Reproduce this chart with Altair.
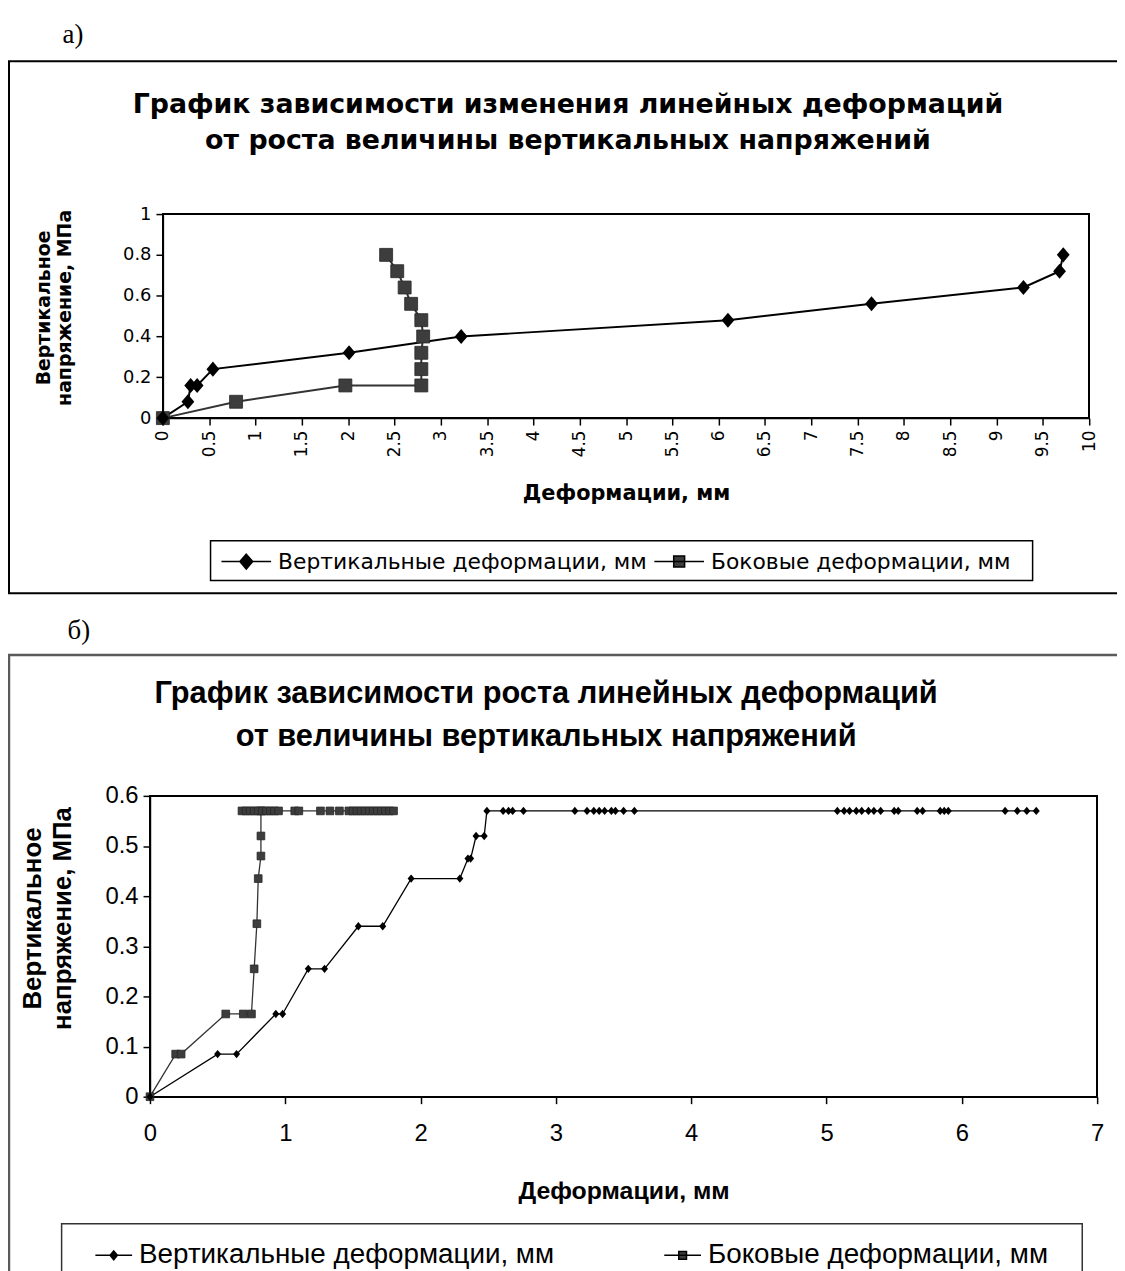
import altair as alt
import pandas as pd

# ---------------- data ----------------
series_names = ["Вертикальные деформации, мм", "Боковые деформации, мм"]

# panel а)
a_vert_x = [0, 0.27, 0.30, 0.37, 0.54, 2.01, 3.22, 6.10, 7.65, 9.29, 9.68, 9.72]
a_vert_y = [0, 0.08, 0.16, 0.16, 0.24, 0.32, 0.40, 0.48, 0.56, 0.64, 0.72, 0.80]
a_lat_x = [0, 0.79, 1.97, 2.79, 2.79, 2.79, 2.81, 2.79, 2.68, 2.61, 2.53, 2.41]
a_lat_y = [0, 0.08, 0.16, 0.16, 0.24, 0.32, 0.40, 0.48, 0.56, 0.64, 0.72, 0.80]

# panel б)
b_vert_x = [0, 0.50, 0.64, 0.93, 0.98, 1.17, 1.29, 1.54, 1.72, 1.93, 2.29, 2.35, 2.37,
            2.41, 2.47, 2.49, 2.61, 2.65, 2.68, 2.76, 3.14, 3.23, 3.28, 3.32, 3.36,
            3.41, 3.44, 3.50, 3.58, 5.08, 5.13, 5.17, 5.22, 5.26, 5.31, 5.35, 5.40,
            5.50, 5.53, 5.67, 5.71, 5.84, 5.87, 5.90, 6.32, 6.41, 6.48, 6.55]
b_vert_y = [0, 0.085, 0.085, 0.165, 0.165, 0.255, 0.255, 0.34, 0.34, 0.435, 0.435, 0.475, 0.475,
            0.52, 0.52, 0.57, 0.57, 0.57, 0.57, 0.57, 0.57, 0.57, 0.57, 0.57, 0.57,
            0.57, 0.57, 0.57, 0.57, 0.57, 0.57, 0.57, 0.57, 0.57, 0.57, 0.57, 0.57,
            0.57, 0.57, 0.57, 0.57, 0.57, 0.57, 0.57, 0.57, 0.57, 0.57, 0.57]
b_lat_x = [0, 0.19, 0.23, 0.56, 0.69, 0.75, 0.77, 0.79, 0.80, 0.82, 0.82,
           0.82, 0.68, 0.71, 0.74, 0.77, 0.80, 0.83, 0.86, 0.89, 0.92, 0.95,
           1.07, 1.10, 1.26, 1.33, 1.40, 1.47, 1.50, 1.53, 1.56, 1.59, 1.62,
           1.65, 1.68, 1.71, 1.74, 1.77, 1.80]
b_lat_y = [0, 0.085, 0.085, 0.165, 0.165, 0.165, 0.255, 0.345, 0.435, 0.48, 0.52,
           0.57, 0.57, 0.57, 0.57, 0.57, 0.57, 0.57, 0.57, 0.57, 0.57, 0.57,
           0.57, 0.57, 0.57, 0.57, 0.57, 0.57, 0.57, 0.57, 0.57, 0.57, 0.57,
           0.57, 0.57, 0.57, 0.57, 0.57, 0.57]

a_xticks = [0, 0.5, 1, 1.5, 2, 2.5, 3, 3.5, 4, 4.5, 5, 5.5, 6, 6.5, 7, 7.5, 8, 8.5, 9, 9.5, 10]
a_yticks = [0, 0.2, 0.4, 0.6, 0.8, 1]
b_xticks = [0, 1, 2, 3, 4, 5, 6, 7]
b_yticks = [0, 0.1, 0.2, 0.3, 0.4, 0.5, 0.6]

label_a = "а)"
label_b = "б)"
title_a = ["График зависимости изменения линейных деформаций",
           "от роста величины вертикальных напряжений"]
title_b = ["График зависимости роста линейных деформаций",
           "от величины вертикальных напряжений"]
y_title = ["Вертикальное", "напряжение, МПа"]
x_title = "Деформации, мм"


def make_df(xs, ys, name):
    return pd.DataFrame({"x": xs, "y": ys, "series": name, "i": list(range(len(xs)))})


df_a_v = make_df(a_vert_x, a_vert_y, series_names[0])
df_a_l = make_df(a_lat_x, a_lat_y, series_names[1])
df_b_v = make_df(b_vert_x, b_vert_y, series_names[0])
df_b_l = make_df(b_lat_x, b_lat_y, series_names[1])
df_a = pd.concat([df_a_v, df_a_l])
df_b = pd.concat([df_b_v, df_b_l])

# ---------------- layout ----------------
W, H = 1117, 1263
FA = "DejaVu Sans"
FB = "Liberation Sans"
XA = [156, 1089]
YA = [408.5, 203]
XB = [143, 1097]
YB = [1092, 789]

DIAMOND = "M0,-1L0.85,0L0,1L-0.85,0Z"
LEG_DA = "M-1,0L1,0M0,-0.3L0.26,0L0,0.3L-0.26,0Z"
LEG_SA = "M-1,0L1,0M-0.22,-0.22L0.22,-0.22L0.22,0.22L-0.22,0.22Z"
LEG_DB = "M-1,0L1,0M0,-0.24L0.2,0L0,0.24L-0.2,0Z"
LEG_SB = "M-1,0L1,0M-0.21,-0.21L0.21,-0.21L0.21,0.21L-0.21,0.21Z"


def panel(df_v, df_l, df_all, xr, yr, xdom, ydom, xticks, yticks, fam,
          xlab_size, ylab_size, xtitle_size, ytitle_size, x_angle,
          xlab_pad, xtitle_pad, ytitle_pad, ytitle_y, sizes, lw, leg):
    xs = alt.Scale(domain=xdom, range=xr, nice=False, zero=False)
    ys = alt.Scale(domain=ydom, range=yr, nice=False, zero=False)
    xaxis_kw = dict(orient="bottom", offset=-(H - yr[0]), values=xticks, format="~g",
                    labelFont=fam, labelFontSize=xlab_size, labelColor="black",
                    labelOverlap=False, labelFlush=False, labelBound=False,
                    tickSize=7, tickColor="black", tickWidth=1.5,
                    domainColor="black", domainWidth=1.5, grid=False,
                    title=x_title, titleFont=fam, titleFontSize=xtitle_size,
                    titleFontWeight="bold", titleColor="black", titlePadding=xtitle_pad,
                    labelPadding=xlab_pad)
    if x_angle:
        xaxis_kw.update(labelAngle=270, labelAlign="right", labelBaseline="middle")
    else:
        xaxis_kw.update(labelAngle=0)
    ax = alt.Axis(**xaxis_kw)
    ay = alt.Axis(orient="left", offset=-xr[0], values=yticks, format="~g",
                  labelFont=fam, labelFontSize=ylab_size, labelColor="black",
                  labelOverlap=False, labelFlush=False, labelBound=False, labelPadding=5,
                  tickSize=7, tickColor="black", tickWidth=1.5,
                  domainColor="black", domainWidth=1.5, grid=False,
                  title=y_title, titleFont=fam, titleFontSize=ytitle_size,
                  titleFontWeight="bold", titleColor="black", titlePadding=ytitle_pad,
                  titleLineHeight=ytitle_size * 1.15, titleY=ytitle_y)
    X = alt.X("x:Q", scale=xs, axis=ax)
    Y = alt.Y("y:Q", scale=ys, axis=ay)

    frame = alt.Chart(df_v).mark_rect(fillOpacity=0, stroke="black", strokeWidth=1.5).encode(
        x=alt.X(datum=xdom[0], type="quantitative", scale=xs, axis=ax),
        x2=alt.X2(datum=xdom[1]),
        y=alt.Y(datum=ydom[0], type="quantitative", scale=ys, axis=ay),
        y2=alt.Y2(datum=ydom[1]),
    )
    line_l = alt.Chart(df_l).mark_line(color="#333333", strokeWidth=lw).encode(
        x=X, y=Y, order="i:Q")
    line_v = alt.Chart(df_v).mark_line(color="black", strokeWidth=lw).encode(
        x=X, y=Y, order="i:Q")
    pts_l = alt.Chart(df_l).mark_point(filled=True, shape="square", size=sizes[1],
                                       color="#3d3d3d", opacity=1,
                                       stroke="#262626", strokeWidth=0.8).encode(x=X, y=Y)
    pts_v = alt.Chart(df_v).mark_point(filled=True, shape=DIAMOND, size=sizes[0],
                                       color="black", opacity=1).encode(x=X, y=Y)
    legend = alt.Legend(**leg)
    legend_layer = alt.Chart(df_all).transform_filter("false").mark_point(
        filled=True, opacity=1).encode(
        x=X, y=Y,
        shape=alt.Shape("series:N", scale=alt.Scale(domain=series_names, range=leg_shapes[fam]),
                        legend=legend),
        color=alt.Color("series:N", scale=alt.Scale(domain=series_names, range=["black", "#3d3d3d"]),
                        legend=legend),
    )
    return alt.layer(frame, line_l, line_v, pts_l, pts_v, legend_layer)


leg_shapes = {FA: [LEG_DA, LEG_SA], FB: [LEG_DB, LEG_SB]}

leg_a = dict(orient="none", legendX=214, legendY=527, direction="horizontal", title=None,
             labelFont=FA, labelFontSize=22, labelColor="black", labelOffset=6,
             labelLimit=1000, columnPadding=4, symbolSize=2500,
             symbolStrokeColor="black", symbolStrokeWidth=1.5, padding=0)
leg_b = dict(orient="none", legendX=87, legendY=1232, direction="horizontal", title=None,
             labelFont=FB, labelFontSize=28, labelColor="black", labelOffset=6,
             labelLimit=1000, columnPadding=107, symbolSize=1369,
             symbolStrokeColor="black", symbolStrokeWidth=1.5, padding=0)

panel_a = panel(df_a_v, df_a_l, df_a, XA, YA, [0, 10], [0, 1], a_xticks, a_yticks, FA,
                17, 18, 21, 19, True, 5, 26, 48, 297, [230, 170], 2, leg_a)
panel_b = panel(df_b_v, df_b_l, df_b, XB, YB, [0, 7], [0, 0.6], b_xticks, b_yticks, FB,
                24, 24, 25, 26, False, 18, 34, 30, 912, [70, 60], 1.3, leg_b)


def box(x, x2, y, y2, stroke, sw):
    return alt.Chart().mark_rect(fillOpacity=0, stroke=stroke, strokeWidth=sw).encode(
        x=alt.value(x), x2=alt.value(x2), y=alt.value(y), y2=alt.value(y2))


def text(t, x, y, font, size, weight, align="center", lh=None):
    kw = dict(text=t, font=font, fontSize=size, fontWeight=weight, align=align,
              baseline="alphabetic", color="black")
    if lh:
        kw["lineHeight"] = lh
    return alt.Chart().mark_text(**kw).encode(x=alt.value(x), y=alt.value(y))


decor = [
    box(1, 1140, 49, 585, "black", 2),
    box(1, 1140, 647, 1320, "#5a5a5a", 2.5),
    box(204, 1032, 532, 572, "black", 1.5),
    box(54, 1082, 1220, 1320, "#333333", 1.5),
    text(label_a, 55, 31, "Liberation Serif", 27, "normal", "left"),
    text(label_b, 60, 631, "Liberation Serif", 27, "normal", "left"),
    text(title_a, 564, 101, FA, 27, "bold", "center", 36),
    text(title_b, 542, 695, FB, 31, "bold", "center", 44),
]

chart = alt.layer(panel_a, panel_b, *decor).resolve_scale(
    x="independent", y="independent", color="independent", shape="independent"
).properties(
    width=W, height=H, autosize=alt.AutoSizeParams(type="none"), padding=0,
    background="white"
).configure_view(stroke=None)

chart.save("out.html", embed_options={"renderer": "svg", "actions": False})
